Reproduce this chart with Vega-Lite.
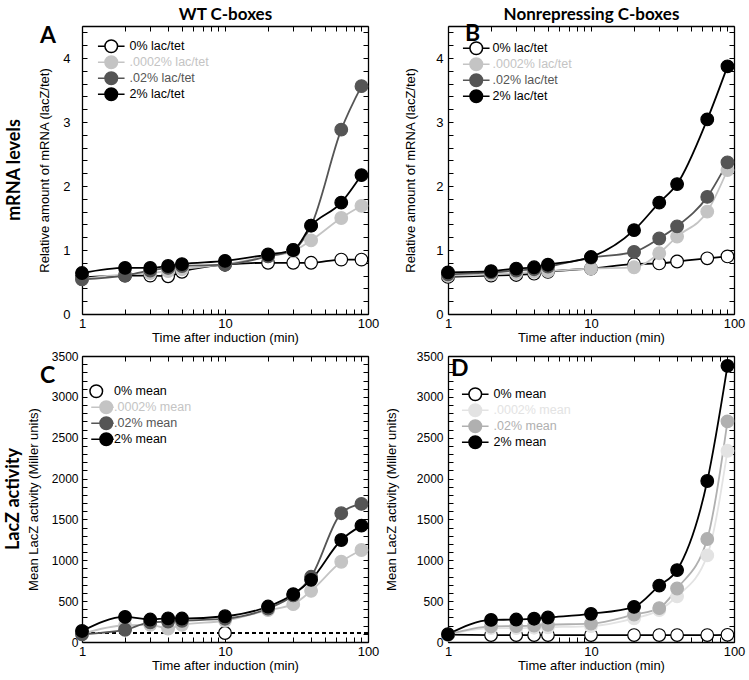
{
  "$schema": "https://vega.github.io/schema/vega-lite/v6.json",
  "background": "white",
  "padding": 5,
  "spacing": {"row": 6, "column": 6},
  "columns": 2,
  "datasets": {
    "A": [
      {"t":1,"v":0.57,"s":"0% lac/tet"},{"t":2,"v":0.6,"s":"0% lac/tet"},{"t":3,"v":0.6,"s":"0% lac/tet"},{"t":4,"v":0.59,"s":"0% lac/tet"},{"t":5,"v":0.66,"s":"0% lac/tet"},{"t":10,"v":0.77,"s":"0% lac/tet"},{"t":20,"v":0.8,"s":"0% lac/tet"},{"t":30,"v":0.8,"s":"0% lac/tet"},{"t":40,"v":0.8,"s":"0% lac/tet"},{"t":65,"v":0.85,"s":"0% lac/tet"},{"t":90,"v":0.85,"s":"0% lac/tet"},
      {"t":1,"v":0.55,"s":".0002% lac/tet"},{"t":2,"v":0.62,"s":".0002% lac/tet"},{"t":3,"v":0.64,"s":".0002% lac/tet"},{"t":4,"v":0.67,"s":".0002% lac/tet"},{"t":5,"v":0.7,"s":".0002% lac/tet"},{"t":10,"v":0.78,"s":".0002% lac/tet"},{"t":20,"v":0.9,"s":".0002% lac/tet"},{"t":30,"v":0.98,"s":".0002% lac/tet"},{"t":40,"v":1.15,"s":".0002% lac/tet"},{"t":65,"v":1.5,"s":".0002% lac/tet"},{"t":90,"v":1.69,"s":".0002% lac/tet"},
      {"t":1,"v":0.54,"s":".02% lac/tet"},{"t":2,"v":0.6,"s":".02% lac/tet"},{"t":3,"v":0.68,"s":".02% lac/tet"},{"t":4,"v":0.72,"s":".02% lac/tet"},{"t":5,"v":0.75,"s":".02% lac/tet"},{"t":10,"v":0.77,"s":".02% lac/tet"},{"t":20,"v":0.9,"s":".02% lac/tet"},{"t":30,"v":1.0,"s":".02% lac/tet"},{"t":40,"v":1.38,"s":".02% lac/tet"},{"t":65,"v":2.88,"s":".02% lac/tet"},{"t":90,"v":3.56,"s":".02% lac/tet"},
      {"t":1,"v":0.64,"s":"2% lac/tet"},{"t":2,"v":0.72,"s":"2% lac/tet"},{"t":3,"v":0.72,"s":"2% lac/tet"},{"t":4,"v":0.75,"s":"2% lac/tet"},{"t":5,"v":0.78,"s":"2% lac/tet"},{"t":10,"v":0.83,"s":"2% lac/tet"},{"t":20,"v":0.93,"s":"2% lac/tet"},{"t":30,"v":1.0,"s":"2% lac/tet"},{"t":40,"v":1.38,"s":"2% lac/tet"},{"t":65,"v":1.74,"s":"2% lac/tet"},{"t":90,"v":2.17,"s":"2% lac/tet"}
    ],
    "B": [
      {"t":1,"v":0.58,"s":"0% lac/tet"},{"t":2,"v":0.6,"s":"0% lac/tet"},{"t":3,"v":0.61,"s":"0% lac/tet"},{"t":4,"v":0.63,"s":"0% lac/tet"},{"t":5,"v":0.66,"s":"0% lac/tet"},{"t":10,"v":0.71,"s":"0% lac/tet"},{"t":20,"v":0.78,"s":"0% lac/tet"},{"t":30,"v":0.79,"s":"0% lac/tet"},{"t":40,"v":0.82,"s":"0% lac/tet"},{"t":65,"v":0.87,"s":"0% lac/tet"},{"t":90,"v":0.9,"s":"0% lac/tet"},
      {"t":1,"v":0.6,"s":".0002% lac/tet"},{"t":2,"v":0.62,"s":".0002% lac/tet"},{"t":3,"v":0.64,"s":".0002% lac/tet"},{"t":4,"v":0.66,"s":".0002% lac/tet"},{"t":5,"v":0.67,"s":".0002% lac/tet"},{"t":10,"v":0.71,"s":".0002% lac/tet"},{"t":20,"v":0.73,"s":".0002% lac/tet"},{"t":30,"v":0.95,"s":".0002% lac/tet"},{"t":40,"v":1.21,"s":".0002% lac/tet"},{"t":65,"v":1.6,"s":".0002% lac/tet"},{"t":90,"v":2.25,"s":".0002% lac/tet"},
      {"t":1,"v":0.62,"s":".02% lac/tet"},{"t":2,"v":0.65,"s":".02% lac/tet"},{"t":3,"v":0.68,"s":".02% lac/tet"},{"t":4,"v":0.7,"s":".02% lac/tet"},{"t":5,"v":0.74,"s":".02% lac/tet"},{"t":10,"v":0.88,"s":".02% lac/tet"},{"t":20,"v":0.97,"s":".02% lac/tet"},{"t":30,"v":1.18,"s":".02% lac/tet"},{"t":40,"v":1.37,"s":".02% lac/tet"},{"t":65,"v":1.83,"s":".02% lac/tet"},{"t":90,"v":2.37,"s":".02% lac/tet"},
      {"t":1,"v":0.65,"s":"2% lac/tet"},{"t":2,"v":0.67,"s":"2% lac/tet"},{"t":3,"v":0.71,"s":"2% lac/tet"},{"t":4,"v":0.73,"s":"2% lac/tet"},{"t":5,"v":0.77,"s":"2% lac/tet"},{"t":10,"v":0.89,"s":"2% lac/tet"},{"t":20,"v":1.31,"s":"2% lac/tet"},{"t":30,"v":1.74,"s":"2% lac/tet"},{"t":40,"v":2.03,"s":"2% lac/tet"},{"t":65,"v":3.04,"s":"2% lac/tet"},{"t":90,"v":3.87,"s":"2% lac/tet"}
    ],
    "C": [
      {"t":10,"v":110,"s":"0% mean"},
      {"t":1,"v":100,"s":".0002% mean"},{"t":2,"v":205,"s":".0002% mean"},{"t":3,"v":210,"s":".0002% mean"},{"t":4,"v":165,"s":".0002% mean"},{"t":5,"v":210,"s":".0002% mean"},{"t":10,"v":260,"s":".0002% mean"},{"t":20,"v":390,"s":".0002% mean"},{"t":30,"v":463,"s":".0002% mean"},{"t":40,"v":626,"s":".0002% mean"},{"t":65,"v":982,"s":".0002% mean"},{"t":90,"v":1126,"s":".0002% mean"},
      {"t":1,"v":95,"s":".02% mean"},{"t":2,"v":150,"s":".02% mean"},{"t":3,"v":240,"s":".02% mean"},{"t":4,"v":250,"s":".02% mean"},{"t":5,"v":260,"s":".02% mean"},{"t":10,"v":285,"s":".02% mean"},{"t":20,"v":410,"s":".02% mean"},{"t":30,"v":570,"s":".02% mean"},{"t":40,"v":798,"s":".02% mean"},{"t":65,"v":1576,"s":".02% mean"},{"t":90,"v":1690,"s":".02% mean"},
      {"t":1,"v":135,"s":"2% mean"},{"t":2,"v":307,"s":"2% mean"},{"t":3,"v":275,"s":"2% mean"},{"t":4,"v":290,"s":"2% mean"},{"t":5,"v":287,"s":"2% mean"},{"t":10,"v":315,"s":"2% mean"},{"t":20,"v":434,"s":"2% mean"},{"t":30,"v":585,"s":"2% mean"},{"t":40,"v":761,"s":"2% mean"},{"t":65,"v":1248,"s":"2% mean"},{"t":90,"v":1424,"s":"2% mean"}
    ],
    "D": [
      {"t":1,"v":90,"s":"0% mean"},{"t":2,"v":85,"s":"0% mean"},{"t":3,"v":85,"s":"0% mean"},{"t":4,"v":85,"s":"0% mean"},{"t":5,"v":85,"s":"0% mean"},{"t":10,"v":85,"s":"0% mean"},{"t":20,"v":85,"s":"0% mean"},{"t":30,"v":85,"s":"0% mean"},{"t":40,"v":85,"s":"0% mean"},{"t":65,"v":85,"s":"0% mean"},{"t":90,"v":88,"s":"0% mean"},
      {"t":1,"v":90,"s":".0002% mean"},{"t":2,"v":170,"s":".0002% mean"},{"t":3,"v":170,"s":".0002% mean"},{"t":4,"v":175,"s":".0002% mean"},{"t":5,"v":180,"s":".0002% mean"},{"t":10,"v":195,"s":".0002% mean"},{"t":20,"v":290,"s":".0002% mean"},{"t":30,"v":390,"s":".0002% mean"},{"t":40,"v":560,"s":".0002% mean"},{"t":65,"v":1060,"s":".0002% mean"},{"t":90,"v":2340,"s":".0002% mean"},
      {"t":1,"v":90,"s":".02% mean"},{"t":2,"v":190,"s":".02% mean"},{"t":3,"v":195,"s":".02% mean"},{"t":4,"v":200,"s":".02% mean"},{"t":5,"v":210,"s":".02% mean"},{"t":10,"v":225,"s":".02% mean"},{"t":20,"v":335,"s":".02% mean"},{"t":30,"v":415,"s":".02% mean"},{"t":40,"v":655,"s":".02% mean"},{"t":65,"v":1260,"s":".02% mean"},{"t":90,"v":2700,"s":".02% mean"},
      {"t":1,"v":95,"s":"2% mean"},{"t":2,"v":270,"s":"2% mean"},{"t":3,"v":275,"s":"2% mean"},{"t":4,"v":285,"s":"2% mean"},{"t":5,"v":300,"s":"2% mean"},{"t":10,"v":345,"s":"2% mean"},{"t":20,"v":430,"s":"2% mean"},{"t":30,"v":690,"s":"2% mean"},{"t":40,"v":880,"s":"2% mean"},{"t":65,"v":1970,"s":"2% mean"},{"t":90,"v":3380,"s":"2% mean"}
    ]
  },
  "concat": [
    {
      "width": 286, "height": 288,
      "title": {"text": "mRNA levels", "orient": "left", "font": "Lato", "fontSize": 18, "fontWeight": "bold", "color": "black", "offset": 15},
      "data": {"name": "A"},
      "resolve": {"axis": {"x": "independent", "y": "independent"}},
      "layer": [
        {"mark": {"type": "line", "interpolate": "monotone", "strokeWidth": 1.8},
         "encoding": {
           "x": {"field": "t", "type": "quantitative", "scale": {"type": "log", "domain": [1, 100], "nice": false},
                 "axis": {"orient": "bottom", "values": [1,2,3,4,5,6,7,8,9,10,20,30,40,50,60,70,80,90,100], "labelExpr": "(datum.value==1||datum.value==10||datum.value==100) ? datum.label : ''", "labelPadding": 8, "title": "Time after induction (min)", "titlePadding": 1}},
           "y": {"field": "v", "type": "quantitative", "scale": {"domain": [0, 4.5], "nice": false, "zero": false},
                 "axis": {"orient": "left", "values": [0,0.2,0.4,0.6,0.8,1,1.2,1.4,1.6,1.8,2,2.2,2.4,2.6,2.8,3,3.2,3.4,3.6,3.8,4,4.2,4.4], "labelExpr": "(datum.value==0||datum.value==1||datum.value==2||datum.value==3||datum.value==4) ? format(datum.value,'d') : ''", "labelPadding": 17, "title": "Relative amount of mRNA (lacZ/tet)", "titlePadding": 11}},
           "stroke": {"field": "s", "type": "nominal", "sort": null,
                      "scale": {"domain": ["0% lac/tet", ".0002% lac/tet", ".02% lac/tet", "2% lac/tet"], "range": ["#000000", "#c4c4c4", "#555555", "#000000"]},
                      "legend": {"title": null, "orient": "none", "legendX": 23, "legendY": 14, "padding": 0, "rowPadding": -5.5, "symbolType": "M-2.66,0L-1.26,0M1.26,0L2.66,0M-1.26,0C-1.26,-0.696,-0.696,-1.26,0,-1.26C0.696,-1.26,1.26,-0.696,1.26,0C1.26,0.696,0.696,1.26,0,1.26C-0.696,1.26,-1.26,0.696,-1.26,0Z", "symbolSize": 100, "symbolStrokeWidth": 1.5, "labelOffset": 12, "labelFont": "Liberation Sans", "labelFontSize": 12.5, "labelColor": {"expr": "indexof(datum.value,'.0002%')==0 ? '#c4c4c4' : indexof(datum.value,'.02%')==0 ? '#555555' : '#000000'"}}}
         }},
        {"mark": {"type": "point", "size": 160, "strokeWidth": 1.2, "opacity": 1},
         "encoding": {
           "x": {"field": "t", "type": "quantitative", "axis": null},
           "y": {"field": "v", "type": "quantitative", "axis": null},
           "stroke": {"field": "s", "type": "nominal", "sort": null,
                      "scale": {"domain": ["0% lac/tet", ".0002% lac/tet", ".02% lac/tet", "2% lac/tet"], "range": ["#000000", "#c4c4c4", "#555555", "#000000"]},
                      "legend": {"title": null, "orient": "none", "legendX": 23, "legendY": 14, "padding": 0, "rowPadding": -5.5, "symbolType": "M-2.66,0L-1.26,0M1.26,0L2.66,0M-1.26,0C-1.26,-0.696,-0.696,-1.26,0,-1.26C0.696,-1.26,1.26,-0.696,1.26,0C1.26,0.696,0.696,1.26,0,1.26C-0.696,1.26,-1.26,0.696,-1.26,0Z", "symbolSize": 100, "symbolStrokeWidth": 1.5, "labelOffset": 12, "labelFont": "Liberation Sans", "labelFontSize": 12.5, "labelColor": {"expr": "indexof(datum.value,'.0002%')==0 ? '#c4c4c4' : indexof(datum.value,'.02%')==0 ? '#555555' : '#000000'"}}},
           "fill": {"field": "s", "type": "nominal", "sort": null,
                    "scale": {"domain": ["0% lac/tet", ".0002% lac/tet", ".02% lac/tet", "2% lac/tet"], "range": ["#ffffff", "#c4c4c4", "#555555", "#000000"]},
                    "legend": {"title": null, "orient": "none", "legendX": 23, "legendY": 14, "padding": 0, "rowPadding": -5.5, "symbolType": "M-2.66,0L-1.26,0M1.26,0L2.66,0M-1.26,0C-1.26,-0.696,-0.696,-1.26,0,-1.26C0.696,-1.26,1.26,-0.696,1.26,0C1.26,0.696,0.696,1.26,0,1.26C-0.696,1.26,-1.26,0.696,-1.26,0Z", "symbolSize": 100, "symbolStrokeWidth": 1.5, "labelOffset": 12, "labelFont": "Liberation Sans", "labelFontSize": 12.5, "labelColor": {"expr": "indexof(datum.value,'.0002%')==0 ? '#c4c4c4' : indexof(datum.value,'.02%')==0 ? '#555555' : '#000000'"}}}
         }},
        {"mark": {"type": "point", "opacity": 0},
         "encoding": {
           "x": {"field": "t", "type": "quantitative",
                 "axis": {"orient": "top", "values": [1,2,3,4,5,6,7,8,9,10,20,30,40,50,60,70,80,90,100], "labels": false, "title": "WT C-boxes", "titleFont": "Lato", "titleFontSize": 17, "titleFontWeight": "bold", "titlePadding": 2}},
           "y": {"field": "v", "type": "quantitative",
                 "axis": {"orient": "right", "values": [0,0.2,0.4,0.6,0.8,1,1.2,1.4,1.6,1.8,2,2.2,2.4,2.6,2.8,3,3.2,3.4,3.6,3.8,4,4.2,4.4], "labels": false, "title": null}}
         }},
        {"data": {"values": [{"l": "A"}]},
         "mark": {"type": "text", "font": "Lato", "fontSize": 23, "fontWeight": "bold", "align": "left", "baseline": "alphabetic", "dx": -42, "dy": 17, "color": "black"},
         "encoding": {
           "x": {"datum": 1, "type": "quantitative", "axis": null},
           "y": {"datum": 4.5, "type": "quantitative", "axis": null},
           "text": {"field": "l"}
         }}
      ]
    },
    {
      "width": 286, "height": 288,
      "data": {"name": "B"},
      "resolve": {"axis": {"x": "independent", "y": "independent"}},
      "layer": [
        {"mark": {"type": "line", "interpolate": "monotone", "strokeWidth": 1.8},
         "encoding": {
           "x": {"field": "t", "type": "quantitative", "scale": {"type": "log", "domain": [1, 100], "nice": false},
                 "axis": {"orient": "bottom", "values": [1,2,3,4,5,6,7,8,9,10,20,30,40,50,60,70,80,90,100], "labelExpr": "(datum.value==1||datum.value==10||datum.value==100) ? datum.label : ''", "labelPadding": 8, "title": "Time after induction (min)", "titlePadding": 1}},
           "y": {"field": "v", "type": "quantitative", "scale": {"domain": [0, 4.5], "nice": false, "zero": false},
                 "axis": {"orient": "left", "values": [0,0.2,0.4,0.6,0.8,1,1.2,1.4,1.6,1.8,2,2.2,2.4,2.6,2.8,3,3.2,3.4,3.6,3.8,4,4.2,4.4], "labelExpr": "(datum.value==0||datum.value==1||datum.value==2||datum.value==3||datum.value==4) ? format(datum.value,'d') : ''", "labelPadding": 10, "title": "Relative amount of mRNA (lacZ/tet)", "titlePadding": 18}},
           "stroke": {"field": "s", "type": "nominal", "sort": null,
                      "scale": {"domain": ["0% lac/tet", ".0002% lac/tet", ".02% lac/tet", "2% lac/tet"], "range": ["#000000", "#c4c4c4", "#555555", "#000000"]},
                      "legend": {"title": null, "orient": "none", "legendX": 22, "legendY": 16, "padding": 0, "rowPadding": -5.5, "symbolType": "M-2.66,0L-1.26,0M1.26,0L2.66,0M-1.26,0C-1.26,-0.696,-0.696,-1.26,0,-1.26C0.696,-1.26,1.26,-0.696,1.26,0C1.26,0.696,0.696,1.26,0,1.26C-0.696,1.26,-1.26,0.696,-1.26,0Z", "symbolSize": 100, "symbolStrokeWidth": 1.5, "labelOffset": 10, "labelFont": "Liberation Sans", "labelFontSize": 12.5, "labelColor": {"expr": "indexof(datum.value,'.0002%')==0 ? '#c4c4c4' : indexof(datum.value,'.02%')==0 ? '#555555' : '#000000'"}}}
         }},
        {"mark": {"type": "point", "size": 160, "strokeWidth": 1.2, "opacity": 1},
         "encoding": {
           "x": {"field": "t", "type": "quantitative", "axis": null},
           "y": {"field": "v", "type": "quantitative", "axis": null},
           "stroke": {"field": "s", "type": "nominal", "sort": null,
                      "scale": {"domain": ["0% lac/tet", ".0002% lac/tet", ".02% lac/tet", "2% lac/tet"], "range": ["#000000", "#c4c4c4", "#555555", "#000000"]},
                      "legend": {"title": null, "orient": "none", "legendX": 22, "legendY": 16, "padding": 0, "rowPadding": -5.5, "symbolType": "M-2.66,0L-1.26,0M1.26,0L2.66,0M-1.26,0C-1.26,-0.696,-0.696,-1.26,0,-1.26C0.696,-1.26,1.26,-0.696,1.26,0C1.26,0.696,0.696,1.26,0,1.26C-0.696,1.26,-1.26,0.696,-1.26,0Z", "symbolSize": 100, "symbolStrokeWidth": 1.5, "labelOffset": 10, "labelFont": "Liberation Sans", "labelFontSize": 12.5, "labelColor": {"expr": "indexof(datum.value,'.0002%')==0 ? '#c4c4c4' : indexof(datum.value,'.02%')==0 ? '#555555' : '#000000'"}}},
           "fill": {"field": "s", "type": "nominal", "sort": null,
                    "scale": {"domain": ["0% lac/tet", ".0002% lac/tet", ".02% lac/tet", "2% lac/tet"], "range": ["#ffffff", "#c4c4c4", "#555555", "#000000"]},
                    "legend": {"title": null, "orient": "none", "legendX": 22, "legendY": 16, "padding": 0, "rowPadding": -5.5, "symbolType": "M-2.66,0L-1.26,0M1.26,0L2.66,0M-1.26,0C-1.26,-0.696,-0.696,-1.26,0,-1.26C0.696,-1.26,1.26,-0.696,1.26,0C1.26,0.696,0.696,1.26,0,1.26C-0.696,1.26,-1.26,0.696,-1.26,0Z", "symbolSize": 100, "symbolStrokeWidth": 1.5, "labelOffset": 10, "labelFont": "Liberation Sans", "labelFontSize": 12.5, "labelColor": {"expr": "indexof(datum.value,'.0002%')==0 ? '#c4c4c4' : indexof(datum.value,'.02%')==0 ? '#555555' : '#000000'"}}}
         }},
        {"mark": {"type": "point", "opacity": 0},
         "encoding": {
           "x": {"field": "t", "type": "quantitative",
                 "axis": {"orient": "top", "values": [1,2,3,4,5,6,7,8,9,10,20,30,40,50,60,70,80,90,100], "labels": false, "title": "Nonrepressing C-boxes", "titleFont": "Lato", "titleFontSize": 17, "titleFontWeight": "bold", "titlePadding": 2}},
           "y": {"field": "v", "type": "quantitative",
                 "axis": {"orient": "right", "values": [0,0.2,0.4,0.6,0.8,1,1.2,1.4,1.6,1.8,2,2.2,2.4,2.6,2.8,3,3.2,3.4,3.6,3.8,4,4.2,4.4], "labels": false, "title": null}}
         }},
        {"data": {"values": [{"l": "B"}]},
         "mark": {"type": "text", "font": "Lato", "fontSize": 23, "fontWeight": "bold", "align": "left", "baseline": "alphabetic", "dx": 17, "dy": 15, "color": "black"},
         "encoding": {
           "x": {"datum": 1, "type": "quantitative", "axis": null},
           "y": {"datum": 4.5, "type": "quantitative", "axis": null},
           "text": {"field": "l"}
         }}
      ]
    },
    {
      "width": 286, "height": 286,
      "title": {"text": "LacZ activity", "orient": "left", "font": "Lato", "fontSize": 18, "fontWeight": "bold", "color": "black", "offset": 4},
      "data": {"name": "C"},
      "resolve": {"axis": {"x": "independent", "y": "independent"}},
      "layer": [
        {"mark": {"type": "rule", "strokeDash": [4, 3], "strokeWidth": 1.5, "color": "black"},
         "encoding": {
           "y": {"datum": 110, "type": "quantitative", "axis": null}
         }},
        {"mark": {"type": "line", "interpolate": "monotone", "strokeWidth": 1.8},
         "encoding": {
           "x": {"field": "t", "type": "quantitative", "scale": {"type": "log", "domain": [1, 100], "nice": false},
                 "axis": {"orient": "bottom", "values": [1,2,3,4,5,6,7,8,9,10,20,30,40,50,60,70,80,90,100], "labelExpr": "(datum.value==1||datum.value==10||datum.value==100) ? datum.label : ''", "labelPadding": 8, "title": "Time after induction (min)", "titlePadding": 1}},
           "y": {"field": "v", "type": "quantitative", "scale": {"domain": [0, 3500], "nice": false},
                 "axis": {"orient": "left", "values": [0,100,200,300,400,500,600,700,800,900,1000,1100,1200,1300,1400,1500,1600,1700,1800,1900,2000,2100,2200,2300,2400,2500,2600,2700,2800,2900,3000,3100,3200,3300,3400,3500], "labelExpr": "datum.value % 500 == 0 ? format(datum.value,'d') : ''", "labelFontSize": 12, "labelPadding": 9, "title": "Mean LacZ activity (Miller units)", "titlePadding": 11}},
           "stroke": {"field": "s", "type": "nominal", "sort": null,
                      "scale": {"domain": ["0% mean", ".0002% mean", ".02% mean", "2% mean"], "range": ["#000000", "#c4c4c4", "#555555", "#000000"]},
                      "legend": {"title": null, "orient": "none", "legendX": 18, "legendY": 29, "padding": 0, "rowPadding": -5.5, "symbolType": {"expr": "datum.value=='0% mean' ? 'M-3.26,0C-3.26,-0.696,-2.696,-1.26,-2,-1.26C-1.304,-1.26,-0.74,-0.696,-0.74,0C-0.74,0.696,-1.304,1.26,-2,1.26C-2.696,1.26,-3.26,0.696,-3.26,0Z' : 'M-3,0L-1.26,0M1.26,0L1.5,0M-1.26,0C-1.26,-0.696,-0.696,-1.26,0,-1.26C0.696,-1.26,1.26,-0.696,1.26,0C1.26,0.696,0.696,1.26,0,1.26C-0.696,1.26,-1.26,0.696,-1.26,0Z'"}, "symbolSize": 100, "symbolStrokeWidth": 1.5, "labelOffset": 1.5, "labelFont": "Liberation Sans", "labelFontSize": 12.5, "labelColor": {"expr": "indexof(datum.value,'.0002%')==0 ? '#c4c4c4' : indexof(datum.value,'.02%')==0 ? '#555555' : '#000000'"}}}
         }},
        {"mark": {"type": "point", "size": 160, "strokeWidth": 1.2, "opacity": 1},
         "encoding": {
           "x": {"field": "t", "type": "quantitative", "axis": null},
           "y": {"field": "v", "type": "quantitative", "axis": null},
           "stroke": {"field": "s", "type": "nominal", "sort": null,
                      "scale": {"domain": ["0% mean", ".0002% mean", ".02% mean", "2% mean"], "range": ["#000000", "#c4c4c4", "#555555", "#000000"]},
                      "legend": {"title": null, "orient": "none", "legendX": 18, "legendY": 29, "padding": 0, "rowPadding": -5.5, "symbolType": {"expr": "datum.value=='0% mean' ? 'M-3.26,0C-3.26,-0.696,-2.696,-1.26,-2,-1.26C-1.304,-1.26,-0.74,-0.696,-0.74,0C-0.74,0.696,-1.304,1.26,-2,1.26C-2.696,1.26,-3.26,0.696,-3.26,0Z' : 'M-3,0L-1.26,0M1.26,0L1.5,0M-1.26,0C-1.26,-0.696,-0.696,-1.26,0,-1.26C0.696,-1.26,1.26,-0.696,1.26,0C1.26,0.696,0.696,1.26,0,1.26C-0.696,1.26,-1.26,0.696,-1.26,0Z'"}, "symbolSize": 100, "symbolStrokeWidth": 1.5, "labelOffset": 1.5, "labelFont": "Liberation Sans", "labelFontSize": 12.5, "labelColor": {"expr": "indexof(datum.value,'.0002%')==0 ? '#c4c4c4' : indexof(datum.value,'.02%')==0 ? '#555555' : '#000000'"}}},
           "fill": {"field": "s", "type": "nominal", "sort": null,
                    "scale": {"domain": ["0% mean", ".0002% mean", ".02% mean", "2% mean"], "range": ["#ffffff", "#c4c4c4", "#555555", "#000000"]},
                    "legend": {"title": null, "orient": "none", "legendX": 18, "legendY": 29, "padding": 0, "rowPadding": -5.5, "symbolType": {"expr": "datum.value=='0% mean' ? 'M-3.26,0C-3.26,-0.696,-2.696,-1.26,-2,-1.26C-1.304,-1.26,-0.74,-0.696,-0.74,0C-0.74,0.696,-1.304,1.26,-2,1.26C-2.696,1.26,-3.26,0.696,-3.26,0Z' : 'M-3,0L-1.26,0M1.26,0L1.5,0M-1.26,0C-1.26,-0.696,-0.696,-1.26,0,-1.26C0.696,-1.26,1.26,-0.696,1.26,0C1.26,0.696,0.696,1.26,0,1.26C-0.696,1.26,-1.26,0.696,-1.26,0Z'"}, "symbolSize": 100, "symbolStrokeWidth": 1.5, "labelOffset": 1.5, "labelFont": "Liberation Sans", "labelFontSize": 12.5, "labelColor": {"expr": "indexof(datum.value,'.0002%')==0 ? '#c4c4c4' : indexof(datum.value,'.02%')==0 ? '#555555' : '#000000'"}}}
         }},
        {"mark": {"type": "point", "opacity": 0},
         "encoding": {
           "x": {"field": "t", "type": "quantitative",
                 "axis": {"orient": "top", "values": [1,2,3,4,5,6,7,8,9,10,20,30,40,50,60,70,80,90,100], "labels": false, "title": null}},
           "y": {"field": "v", "type": "quantitative",
                 "axis": {"orient": "right", "values": [0,100,200,300,400,500,600,700,800,900,1000,1100,1200,1300,1400,1500,1600,1700,1800,1900,2000,2100,2200,2300,2400,2500,2600,2700,2800,2900,3000,3100,3200,3300,3400,3500], "labels": false, "title": null}}
         }},
        {"data": {"values": [{"l": "C"}]},
         "mark": {"type": "text", "font": "Lato", "fontSize": 23, "fontWeight": "bold", "align": "left", "baseline": "alphabetic", "dx": -42, "dy": 27, "color": "black"},
         "encoding": {
           "x": {"datum": 1, "type": "quantitative", "axis": null},
           "y": {"datum": 3500, "type": "quantitative", "axis": null},
           "text": {"field": "l"}
         }}
      ]
    },
    {
      "width": 286, "height": 286,
      "data": {"name": "D"},
      "resolve": {"axis": {"x": "independent", "y": "independent"}},
      "layer": [
        {"mark": {"type": "line", "interpolate": "monotone", "strokeWidth": 1.8},
         "encoding": {
           "x": {"field": "t", "type": "quantitative", "scale": {"type": "log", "domain": [1, 100], "nice": false},
                 "axis": {"orient": "bottom", "values": [1,2,3,4,5,6,7,8,9,10,20,30,40,50,60,70,80,90,100], "labelExpr": "(datum.value==1||datum.value==10||datum.value==100) ? datum.label : ''", "labelPadding": 8, "title": "Time after induction (min)", "titlePadding": 1}},
           "y": {"field": "v", "type": "quantitative", "scale": {"domain": [0, 3500], "nice": false},
                 "axis": {"orient": "left", "values": [0,100,200,300,400,500,600,700,800,900,1000,1100,1200,1300,1400,1500,1600,1700,1800,1900,2000,2100,2200,2300,2400,2500,2600,2700,2800,2900,3000,3100,3200,3300,3400,3500], "labelExpr": "datum.value % 500 == 0 ? format(datum.value,'d') : ''", "labelFontSize": 12, "labelPadding": 10, "title": "Mean LacZ activity (Miller units)", "titlePadding": 18}},
           "stroke": {"field": "s", "type": "nominal", "sort": null,
                      "scale": {"domain": ["0% mean", ".0002% mean", ".02% mean", "2% mean"], "range": ["#000000", "#e3e3e3", "#b0b0b0", "#000000"]},
                      "legend": {"title": null, "orient": "none", "legendX": 21, "legendY": 32, "padding": 0, "rowPadding": -5.5, "symbolType": "M-2.66,0L-1.26,0M1.26,0L2.66,0M-1.26,0C-1.26,-0.696,-0.696,-1.26,0,-1.26C0.696,-1.26,1.26,-0.696,1.26,0C1.26,0.696,0.696,1.26,0,1.26C-0.696,1.26,-1.26,0.696,-1.26,0Z", "symbolSize": 100, "symbolStrokeWidth": 1.5, "labelOffset": 12, "labelFont": "Liberation Sans", "labelFontSize": 12.5, "labelColor": {"expr": "indexof(datum.value,'.0002%')==0 ? '#e3e3e3' : indexof(datum.value,'.02%')==0 ? '#b0b0b0' : '#000000'"}}}
         }},
        {"mark": {"type": "point", "size": 160, "strokeWidth": 1.2, "opacity": 1},
         "encoding": {
           "x": {"field": "t", "type": "quantitative", "axis": null},
           "y": {"field": "v", "type": "quantitative", "axis": null},
           "stroke": {"field": "s", "type": "nominal", "sort": null,
                      "scale": {"domain": ["0% mean", ".0002% mean", ".02% mean", "2% mean"], "range": ["#000000", "#e3e3e3", "#b0b0b0", "#000000"]},
                      "legend": {"title": null, "orient": "none", "legendX": 21, "legendY": 32, "padding": 0, "rowPadding": -5.5, "symbolType": "M-2.66,0L-1.26,0M1.26,0L2.66,0M-1.26,0C-1.26,-0.696,-0.696,-1.26,0,-1.26C0.696,-1.26,1.26,-0.696,1.26,0C1.26,0.696,0.696,1.26,0,1.26C-0.696,1.26,-1.26,0.696,-1.26,0Z", "symbolSize": 100, "symbolStrokeWidth": 1.5, "labelOffset": 12, "labelFont": "Liberation Sans", "labelFontSize": 12.5, "labelColor": {"expr": "indexof(datum.value,'.0002%')==0 ? '#e3e3e3' : indexof(datum.value,'.02%')==0 ? '#b0b0b0' : '#000000'"}}},
           "fill": {"field": "s", "type": "nominal", "sort": null,
                    "scale": {"domain": ["0% mean", ".0002% mean", ".02% mean", "2% mean"], "range": ["#ffffff", "#e3e3e3", "#b0b0b0", "#000000"]},
                    "legend": {"title": null, "orient": "none", "legendX": 21, "legendY": 32, "padding": 0, "rowPadding": -5.5, "symbolType": "M-2.66,0L-1.26,0M1.26,0L2.66,0M-1.26,0C-1.26,-0.696,-0.696,-1.26,0,-1.26C0.696,-1.26,1.26,-0.696,1.26,0C1.26,0.696,0.696,1.26,0,1.26C-0.696,1.26,-1.26,0.696,-1.26,0Z", "symbolSize": 100, "symbolStrokeWidth": 1.5, "labelOffset": 12, "labelFont": "Liberation Sans", "labelFontSize": 12.5, "labelColor": {"expr": "indexof(datum.value,'.0002%')==0 ? '#e3e3e3' : indexof(datum.value,'.02%')==0 ? '#b0b0b0' : '#000000'"}}}
         }},
        {"mark": {"type": "point", "opacity": 0},
         "encoding": {
           "x": {"field": "t", "type": "quantitative",
                 "axis": {"orient": "top", "values": [1,2,3,4,5,6,7,8,9,10,20,30,40,50,60,70,80,90,100], "labels": false, "title": null}},
           "y": {"field": "v", "type": "quantitative",
                 "axis": {"orient": "right", "values": [0,100,200,300,400,500,600,700,800,900,1000,1100,1200,1300,1400,1500,1600,1700,1800,1900,2000,2100,2200,2300,2400,2500,2600,2700,2800,2900,3000,3100,3200,3300,3400,3500], "labels": false, "title": null}}
         }},
        {"data": {"values": [{"l": "D"}]},
         "mark": {"type": "text", "font": "Lato", "fontSize": 23, "fontWeight": "bold", "align": "left", "baseline": "alphabetic", "dx": 3, "dy": 20, "color": "black"},
         "encoding": {
           "x": {"datum": 1, "type": "quantitative", "axis": null},
           "y": {"datum": 3500, "type": "quantitative", "axis": null},
           "text": {"field": "l"}
         }}
      ]
    }
  ],
  "resolve": {"scale": {"x": "independent", "y": "independent", "stroke": "independent", "fill": "independent"}, "legend": {"stroke": "independent", "fill": "independent"}},
  "config": {
    "view": {"stroke": null},
    "axis": {"grid": false, "ticks": true, "tickSize": -5, "domainColor": "black", "domainWidth": 1.3, "tickColor": "black", "tickWidth": 1, "labelFont": "Liberation Sans", "labelFontSize": 13, "labelColor": "black", "titleFont": "Liberation Sans", "titleFontSize": 13, "titleFontWeight": "normal", "titleColor": "black", "labelOverlap": false, "labelBound": false, "labelFlush": false}
  }
}
